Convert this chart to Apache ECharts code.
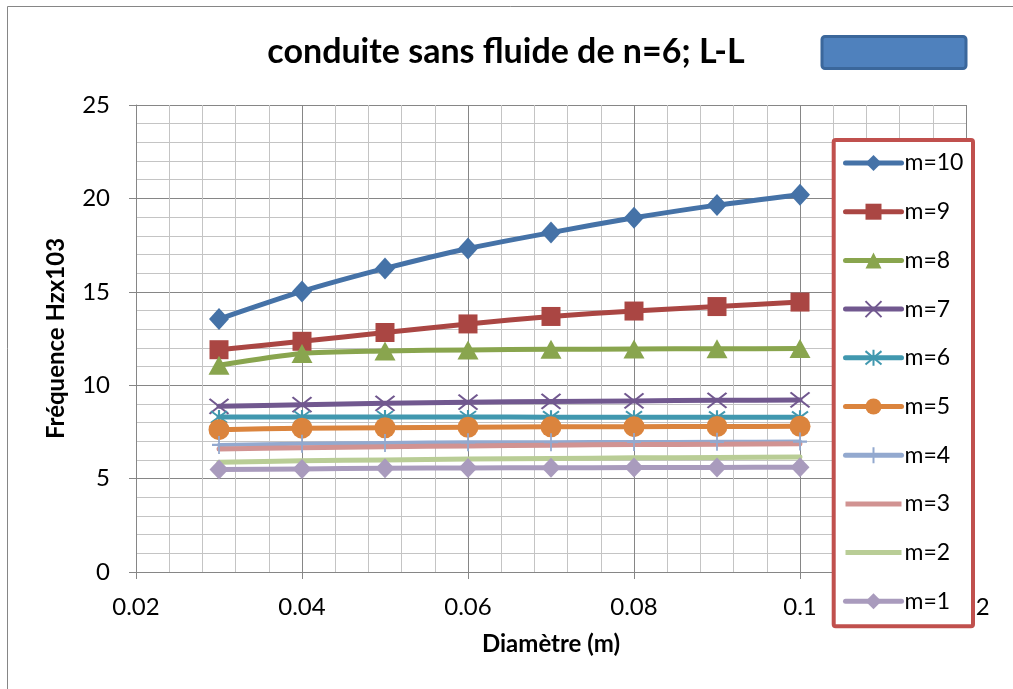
<!DOCTYPE html>
<html>
<head>
<meta charset="utf-8">
<script src="https://cdn.jsdelivr.net/npm/echarts@6/dist/echarts.min.js"></script>
<style>html,body{margin:0;padding:0;background:#fff}#c{width:1013px;height:689px}</style>
</head>
<body>
<div id="c"></div>
<script>
// ---- data ----
const diameters = [0.03, 0.04, 0.05, 0.06, 0.07, 0.08, 0.09, 0.1];
const seriesNames = ['m=10', 'm=9', 'm=8', 'm=7', 'm=6', 'm=5', 'm=4', 'm=3', 'm=2', 'm=1'];
const m10 = [13.54, 15.02, 16.25, 17.32, 18.17, 18.96, 19.64, 20.2];
const m9  = [11.9, 12.35, 12.82, 13.28, 13.68, 13.97, 14.21, 14.45];
const m8  = [11.07, 11.7, 11.83, 11.89, 11.92, 11.94, 11.95, 11.96];
const m7  = [8.87, 8.96, 9.03, 9.09, 9.13, 9.16, 9.19, 9.21];
const m6  = [8.3, 8.3, 8.3, 8.3, 8.29, 8.29, 8.28, 8.28];
const m5  = [7.62, 7.7, 7.72, 7.75, 7.77, 7.78, 7.79, 7.8];
const m4  = [6.8, 6.87, 6.91, 6.94, 6.95, 6.96, 6.97, 6.98];
const m3  = [6.58, 6.65, 6.71, 6.75, 6.79, 6.82, 6.84, 6.86];
const m2  = [5.88, 5.95, 6.0, 6.05, 6.08, 6.11, 6.13, 6.15];
const m1  = [5.49, 5.52, 5.55, 5.57, 5.58, 5.59, 5.6, 5.61];
const xTicks = { min: 0.02, max: 0.12, interval: 0.02 };
const yTicks = { min: 0, max: 25, interval: 5 };
const titleText = 'conduite sans fluide de n=6; L-L';
const xTitle = 'Diamètre (m)';
const yTitle = 'Fréquence Hzx103';

// ---- styles ----
const allValues = [m10, m9, m8, m7, m6, m5, m4, m3, m2, m1];
const colors = ['#4572A7', '#AA4643', '#89A54E', '#71588F', '#4198AF', '#DB843D', '#93A9CF', '#D19392', '#B9CD96', '#A99BBD'];
const X_PATH = 'path://M0,0L10,10M10,0L0,10';
const STAR_PATH = 'path://M0,0L10,10M10,0L0,10M5,-1L5,11';
const PLUS_PATH = 'path://M5,0L5,10M0,5L10,5';
const symbols = ['diamond', 'rect', 'triangle', X_PATH, STAR_PATH, 'circle', PLUS_PATH, 'none', 'none', 'diamond'];
const symbolSizes = [[20, 22], 19, [21, 19], [19, 15], [16, 14], 21, [14, 18], 0, 0, [19, 20]];
const lineWidths = [5, 5, 5, 5, 5, 5, 4, 5, 5, 5];
const FONT = 'Lato, "Open Sans", sans-serif';

const series = seriesNames.map((name, i) => {
  const isPath = typeof symbols[i] === 'string' && symbols[i].indexOf('path://') === 0;
  return {
    name: name,
    type: 'line',
    data: diameters.map((d, j) => [d, allValues[i][j]]),
    symbol: symbols[i],
    symbolSize: symbolSizes[i],
    showSymbol: symbols[i] !== 'none',
    smooth: 0.25,
    lineStyle: { color: colors[i], width: lineWidths[i], cap: 'round', join: 'round' },
    itemStyle: isPath
      ? { color: colors[i], borderColor: colors[i], borderWidth: 2 }
      : { color: colors[i], borderWidth: 0 },
    emphasis: { disabled: true },
    animation: false
  };
});

const legendData = seriesNames.map((name, i) => {
  if (symbols[i] === 'none') {
    return { name: name, icon: 'path://M0,0H56V5H0Z', itemStyle: { color: colors[i] } };
  }
  return { name: name, lineStyle: { width: 5, color: colors[i], cap: 'round' } };
});

const chart = echarts.init(document.getElementById('c'), null, { renderer: 'canvas' });
chart.setOption({
  animation: false,
  backgroundColor: '#ffffff',
  title: {
    text: titleText,
    left: 501, top: 30, textAlign: 'center',
    textStyle: { fontFamily: FONT, fontWeight: 'bold', fontSize: 34, color: '#000' }
  },
  grid: { left: 136, right: 47, top: 105, bottom: 117, containLabel: false },
  xAxis: {
    type: 'value',
    min: xTicks.min, max: xTicks.max, interval: xTicks.interval,
    name: xTitle, nameLocation: 'middle', nameGap: 60,
    nameTextStyle: { fontFamily: FONT, fontWeight: 'bold', fontSize: 24, color: '#000' },
    axisLine: { show: true, onZero: false, lineStyle: { color: '#868686', width: 1 } },
    axisTick: { show: true, inside: false, length: 7, lineStyle: { color: '#868686' } },
    axisLabel: { fontFamily: FONT, fontSize: 24, color: '#000', margin: 23 },
    splitLine: { show: true, lineStyle: { color: '#868686', width: 1 } },
    minorTick: { show: false, splitNumber: 5 },
    minorSplitLine: { show: true, lineStyle: { color: '#c4c4c4', width: 1 } }
  },
  yAxis: {
    type: 'value',
    min: yTicks.min, max: yTicks.max, interval: yTicks.interval,
    name: yTitle, nameLocation: 'middle', nameGap: 68, nameRotate: 90,
    nameTextStyle: { fontFamily: FONT, fontWeight: 'bold', fontSize: 24, color: '#000' },
    axisLine: { show: true, lineStyle: { color: '#868686', width: 1 } },
    axisTick: { show: true, inside: false, length: 7, lineStyle: { color: '#868686' } },
    axisLabel: { fontFamily: FONT, fontSize: 24, color: '#000', margin: 26 },
    splitLine: { show: true, lineStyle: { color: '#868686', width: 1 } },
    minorTick: { show: false, splitNumber: 5 },
    minorSplitLine: { show: true, lineStyle: { color: '#c4c4c4', width: 1 } }
  },
  legend: {
    orient: 'vertical',
    left: 843, top: 151,
    itemWidth: 56, itemHeight: 20, itemGap: 24.7,
    padding: 0,
    data: legendData,
    lineStyle: { width: 5, cap: 'round' },
    textStyle: { fontFamily: FONT, fontSize: 23, color: '#000', lineHeight: 24, padding: [0, 0, 0, -2] },
    selectedMode: false,
    z: 10
  },
  graphic: [
    { type: 'rect', z: 100, silent: true,
      shape: { x: 7.5, y: 6.5, width: 1020, height: 700 },
      style: { fill: null, stroke: '#868686', lineWidth: 1 } },
    { type: 'rect', z: 8, silent: true,
      shape: { x: 833.7, y: 140, width: 139.3, height: 486.3, r: 2 },
      style: { fill: '#ffffff', stroke: '#C0504D', lineWidth: 4 } },
    { type: 'rect', z: 8, silent: true,
      shape: { x: 822, y: 36.5, width: 144, height: 32, r: 3 },
      style: { fill: '#4F81BD', stroke: '#3B679B', lineWidth: 3 } }
  ],
  series: series
});
</script>
</body>
</html>
